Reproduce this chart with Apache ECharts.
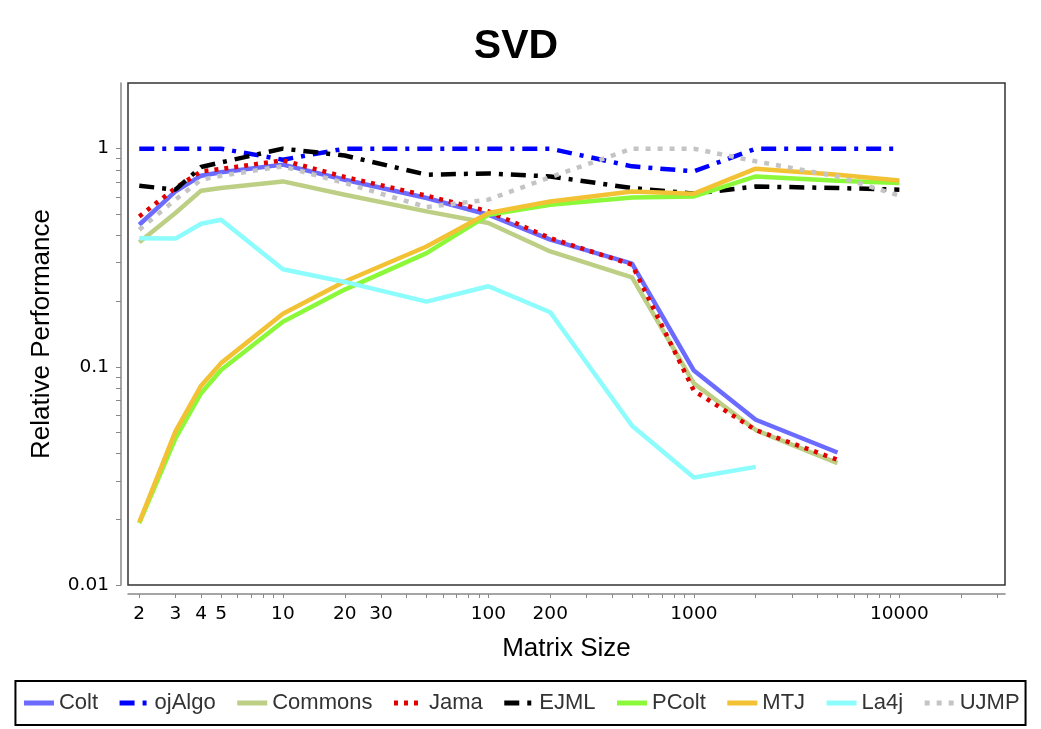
<!DOCTYPE html>
<html>
<head>
<meta charset="utf-8">
<script src="https://cdn.jsdelivr.net/npm/echarts@6/dist/echarts.min.js"></script>
<style>
html,body{margin:0;padding:0;background:#fff;}
#chart{width:1041px;height:729px;}
</style>
</head>
<body>
<div id="chart"></div>
<script>
// ---- data ----
const matrixSizes = [2, 3, 4, 5, 10, 20, 50, 100, 200, 500, 1000, 2000, 5000, 10000];
const colt    = [0.448, 0.637, 0.752, 0.779, 0.845, 0.72, 0.594, 0.498, 0.383, 0.297, 0.0962, 0.0572, 0.0405, null];
const ojAlgo  = [1, 1, 1, 1, 0.89, 1, 1, 1, 1, 0.83, 0.787, 1, 1, 1];
const commons = [0.372, 0.507, 0.642, 0.66, 0.708, 0.615, 0.516, 0.456, 0.338, 0.257, 0.084, 0.0513, 0.0362, null];
const jama    = [0.489, 0.66, 0.787, 0.807, 0.884, 0.742, 0.609, 0.516, 0.389, 0.294, 0.0777, 0.0513, 0.0375, null];
const ejml    = [0.676, 0.649, 0.824, 0.865, 1.0, 0.93, 0.76, 0.77, 0.746, 0.66, 0.622, 0.671, 0.66, 0.649];
const pcolt   = [0.0192, 0.047, 0.0757, 0.0968, 0.161, 0.226, 0.332, 0.498, 0.553, 0.598, 0.604, 0.746, 0.713, 0.696];
const mtj     = [0.0194, 0.0506, 0.082, 0.104, 0.175, 0.246, 0.356, 0.507, 0.573, 0.637, 0.622, 0.81, 0.76, 0.715];
const la4j    = [0.389, 0.387, 0.453, 0.472, 0.28, 0.245, 0.199, 0.234, 0.178, 0.0537, 0.0311, 0.0348, null, null];
const ujmp    = [0.425, 0.584, 0.72, 0.752, 0.83, 0.696, 0.54, 0.584, 0.74, 1, 1, 0.875, 0.746, 0.609];

const xTickLabels = [2, 3, 4, 5, 10, 20, 30, 100, 200, 1000, 10000];
const yTickLabels = ['0.01', '0.1', '1'];
const xRange = [1.763, 32660];
const yRange = [0.01, 2];

// ---- helpers ----
function pairs(vals) {
  const out = [];
  matrixSizes.forEach((x, i) => { if (vals[i] != null) out.push([x, vals[i]]); });
  return out;
}
function minorTicks(lo, hi) {
  const t = [];
  for (let e = Math.floor(Math.log10(lo)); e <= Math.ceil(Math.log10(hi)); e++) {
    for (let m = 1; m <= 9; m++) {
      const v = m * Math.pow(10, e);
      if (v >= lo * 0.999 && v <= hi * 1.001) t.push(Math.log10(v));
    }
  }
  return t;
}

const seriesDefs = [
  { name: 'Colt',    vals: colt,    color: '#6b6bff', type: 'solid' },
  { name: 'ojAlgo',  vals: ojAlgo,  color: '#0000ff', type: [15, 8, 4, 8] },
  { name: 'Commons', vals: commons, color: '#bccf84', type: 'solid' },
  { name: 'Jama',    vals: jama,    color: '#e00000', type: [4, 6] },
  { name: 'EJML',    vals: ejml,    color: '#000000', type: [15, 8, 4, 8] },
  { name: 'PColt',   vals: pcolt,   color: '#8cf83a', type: 'solid' },
  { name: 'MTJ',     vals: mtj,     color: '#f2c234', type: 'solid' },
  { name: 'La4j',    vals: la4j,    color: '#8cfcfc', type: 'solid' },
  { name: 'UJMP',    vals: ujmp,    color: '#c4c4c4', type: [5, 7] }
];

const font = 'Liberation Sans, Arial, sans-serif';
const wideFont = 'DejaVu Sans, sans-serif';
const grid = { left: 128, right: 36, top: 83, bottom: 144 };

const option = {
  backgroundColor: '#fff',
  animation: false,
  title: {
    text: 'SVD', left: 511, top: 21, textAlign: 'center',
    textStyle: { fontFamily: font, fontSize: 41, fontWeight: 'bold', color: '#000' }
  },
  grid: Object.assign({ show: true, borderColor: '#333', borderWidth: 1.5, backgroundColor: '#fff' }, grid),
  legend: {
    left: 'center', top: 681,
    padding: [11, 6], itemGap: 19, itemWidth: 30, itemHeight: 16,
    borderColor: '#000', borderWidth: 2,
    textStyle: { fontFamily: font, fontSize: 22, color: '#333' },
    itemStyle: { opacity: 0 },
    lineStyle: { width: 5 },
    data: seriesDefs.map(s => s.name)
  },
  xAxis: [
    { type: 'log', min: xRange[0], max: xRange[1], show: false, gridIndex: 0 },
    {
      type: 'value', gridIndex: 0, position: 'bottom', offset: 9,
      min: Math.log10(xRange[0]), max: Math.log10(xRange[1]),
      name: 'Matrix Size', nameLocation: 'middle', nameGap: 42,
      nameTextStyle: { fontFamily: font, fontSize: 26, color: '#000' },
      axisLine: { show: true, lineStyle: { color: '#888', width: 1.5 } },
      axisTick: { show: true, length: 4, lineStyle: { color: '#888' }, customValues: minorTicks(xRange[0], xRange[1]) },
      axisLabel: {
        show: true, margin: 11, fontFamily: wideFont, fontSize: 18.5, color: '#000',
        customValues: xTickLabels.map(v => Math.log10(v)),
        formatter: v => String(Math.round(Math.pow(10, v)))
      },
      splitLine: { show: false }
    }
  ],
  yAxis: [
    { type: 'log', min: yRange[0], max: yRange[1], show: false, gridIndex: 0 },
    {
      type: 'value', gridIndex: 0, position: 'left', offset: 7,
      min: Math.log10(yRange[0]), max: Math.log10(yRange[1]),
      name: 'Relative Performance', nameLocation: 'middle', nameGap: 66,
      nameTextStyle: { fontFamily: font, fontSize: 26, color: '#000' },
      axisLine: { show: true, lineStyle: { color: '#888', width: 1.5 } },
      axisTick: { show: true, length: 5, lineStyle: { color: '#888' }, customValues: minorTicks(yRange[0], 1) },
      axisLabel: {
        show: true, margin: 12, fontFamily: wideFont, fontSize: 18.5, color: '#000',
        customValues: yTickLabels.map(v => Math.log10(parseFloat(v))),
        formatter: v => yTickLabels[Math.round(v) + 2]
      },
      splitLine: { show: false }
    }
  ],
  series: seriesDefs.map(s => ({
    name: s.name, type: 'line', xAxisIndex: 0, yAxisIndex: 0,
    data: pairs(s.vals),
    symbol: 'none', showSymbol: false,
    itemStyle: { color: s.color },
    lineStyle: { color: s.color, width: 4.5, type: s.type, cap: 'butt' }
  }))
};

const chart = echarts.init(document.getElementById('chart'), null, { renderer: 'canvas' });
chart.setOption(option);
</script>
</body>
</html>
